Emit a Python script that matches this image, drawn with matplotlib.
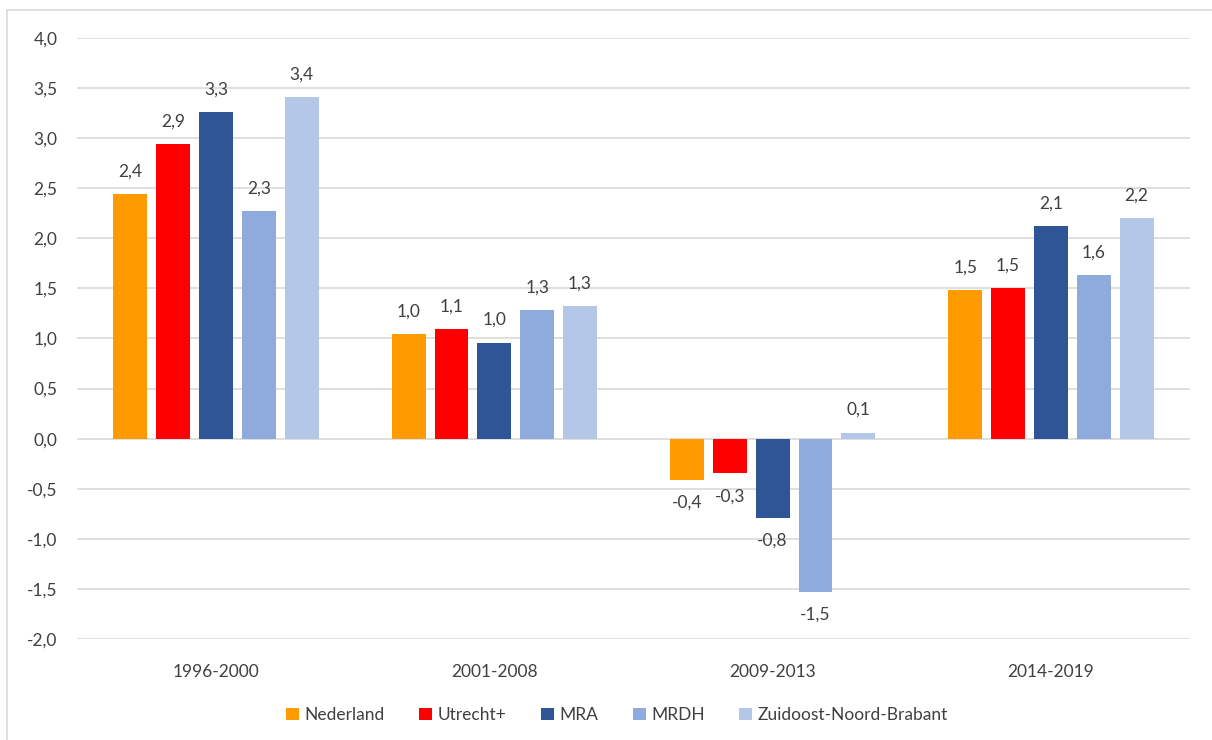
import matplotlib.pyplot as plt
import numpy as np

periodes = ['1996-2000', '2001-2008', '2009-2013', '2014-2019']
regios = ['Nederland', 'Utrecht+', 'MRA', 'MRDH', 'Zuidoost-Noord-Brabant']
kleuren = ['#FF9A00', '#FF0000', '#2F5597', '#8FAADC', '#B4C7E7']

nederland = [2.44, 1.04, -0.41, 1.48]
utrecht = [2.94, 1.09, -0.345, 1.50]
mra = [3.26, 0.96, -0.79, 2.12]
mrdh = [2.27, 1.28, -1.53, 1.63]
znb = [3.41, 1.32, 0.06, 2.20]
reeksen = [nederland, utrecht, mra, mrdh, znb]

plt.rcParams['font.family'] = ['Lato', 'DejaVu Sans']
tekstkleur = '#404040'
grid = '#D9D9D9'
fs = 12.5

W, H = 1212, 740
fig = plt.figure(figsize=(W / 100, H / 100), dpi=100)
ax = fig.add_axes([77 / W, 101 / H, 1113 / W, 601 / H])

x = np.arange(len(periodes))
stap = 0.154
breedte = 0.122
for i, (naam, waarden) in enumerate(zip(regios, reeksen)):
    pos = x + (i - 2) * stap
    ax.bar(pos, waarden, breedte, color=kleuren[i], label=naam, zorder=3)
    for px, v in zip(pos, waarden):
        label = ('%.1f' % v).replace('.', ',')
        ax.annotate(label, (px, v), xytext=(0, 16.5 if v >= 0 else -16.5),
                    textcoords='offset points', ha='center', va='center',
                    fontsize=fs, color=tekstkleur)

ax.set_xlim(-0.5, 3.5)
ax.set_ylim(-2, 4)
ax.set_yticks(np.arange(-2, 4.01, 0.5))
ax.set_yticklabels([('%.1f' % t).replace('.', ',') for t in np.arange(-2, 4.01, 0.5)])
ax.set_xticks(x)
ax.set_xticklabels(periodes)
ax.tick_params(length=0, labelsize=fs, colors=tekstkleur)
ax.tick_params(axis='y', pad=14)
ax.tick_params(axis='x', pad=18)
ax.grid(axis='y', color=grid, linewidth=1.2, zorder=0)
for s in ax.spines.values():
    s.set_visible(False)

fig.legend(loc='center', bbox_to_anchor=(617 / W, 1 - 715 / H), ncol=5,
           frameon=False, fontsize=fs, handlelength=0.75, handleheight=0.75,
           handletextpad=0.3, columnspacing=2.0, labelcolor=tekstkleur)

# kader van de grafiek
fig.add_artist(plt.Line2D([7 / W, 7 / W], [0, 1 - 10 / H], color=grid, lw=1.2))
fig.add_artist(plt.Line2D([7 / W, 1], [1 - 10 / H, 1 - 10 / H], color=grid, lw=1.2))

fig.savefig('out.png', dpi=100)
